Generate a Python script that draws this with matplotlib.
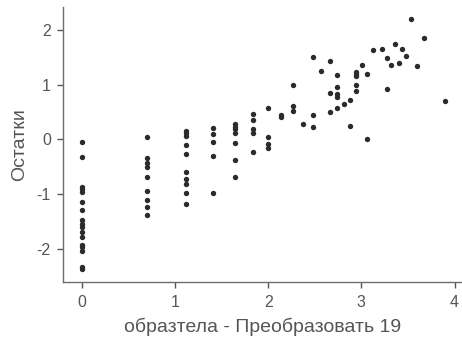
import matplotlib
matplotlib.use("Agg")
import matplotlib.pyplot as plt

plt.rcParams['font.family'] = ['Liberation Sans', 'DejaVu Sans']

x_vals = ([0.0] * 17 + [0.698] * 9 + [1.12] * 10 + [1.41] * 5 + [1.64] * 7 + [1.84] * 5
          + [2.0] * 4 + [2.14] * 2 + [2.27] * 3 + [2.37] + [2.48] * 3 + [2.57] + [2.66] * 3
          + [2.735] * 5 + [2.81] + [2.88] * 2 + [2.94] * 5 + [3.01] + [3.06] * 2 + [3.12]
          + [3.22] + [3.27] * 2 + [3.32] + [3.36] + [3.40] + [3.44] + [3.48] + [3.53]
          + [3.60] + [3.67] + [3.90])
y_vals = ([-0.04, -0.33, -0.865, -0.91, -0.96, -1.14, -1.29, -1.47, -1.55, -1.61, -1.69,
           -1.79, -1.93, -1.96, -2.05, -2.33, -2.37]
          + [0.05, -0.35, -0.44, -0.51, -0.68, -0.94, -1.11, -1.24, -1.39]
          + [0.15, 0.11, 0.06, -0.10, -0.27, -0.59, -0.725, -0.82, -0.975, -1.18]
          + [0.2, 0.1, -0.04, -0.30, -0.975]
          + [0.28, 0.23, 0.18, 0.12, -0.06, -0.37, -0.69]
          + [0.46, 0.35, 0.18, 0.12, -0.23]
          + [0.58, 0.04, -0.09, -0.15]
          + [0.44, 0.40]
          + [0.99, 0.61, 0.52]
          + [0.28]
          + [1.50, 0.44, 0.225]
          + [1.25]
          + [1.43, 0.85, 0.50]
          + [1.18, 0.95, 0.82, 0.77, 0.58]
          + [0.65]
          + [0.72, 0.24]
          + [1.23, 1.19, 1.16, 0.99, 0.89]
          + [1.36]
          + [1.20, 0.005]
          + [1.63]
          + [1.66]
          + [1.48, 0.92]
          + [1.36]
          + [1.75]
          + [1.39]
          + [1.66]
          + [1.52]
          + [2.20]
          + [1.34]
          + [1.86]
          + [0.70])

x_ticks = [0, 1, 2, 3, 4]
y_ticks = [-2, -1, 0, 1, 2]
x_label = "образтела - Преобразовать 19"
y_label = "Остатки"

fig = plt.figure(figsize=(4.62, 3.47), dpi=100)
ax = fig.add_axes([0.137, 0.187, 0.861, 0.793])
ax.scatter(x_vals, y_vals, s=15, color='#2b2b2b', linewidths=0, zorder=3)
ax.set_xlim(-0.198, 4.07)
ax.set_ylim(-2.61, 2.42)
ax.set_xticks(x_ticks)
ax.set_yticks(y_ticks)
ax.set_xticklabels([str(t) for t in x_ticks])
ax.set_yticklabels([str(t) for t in y_ticks])
for s in ['top', 'right']:
    ax.spines[s].set_visible(False)
for s in ['left', 'bottom']:
    ax.spines[s].set_color('#6e6e6e')
    ax.spines[s].set_linewidth(1.0)
ax.tick_params(axis='both', colors='#555555', labelsize=11.5, length=4, width=1, pad=5,
               labelcolor='#555555')
ax.set_xlabel(x_label, fontsize=14, color='#555555', labelpad=6)
ax.set_ylabel(y_label, fontsize=14, color='#555555', labelpad=6)
fig.savefig('out.png', dpi=100)
